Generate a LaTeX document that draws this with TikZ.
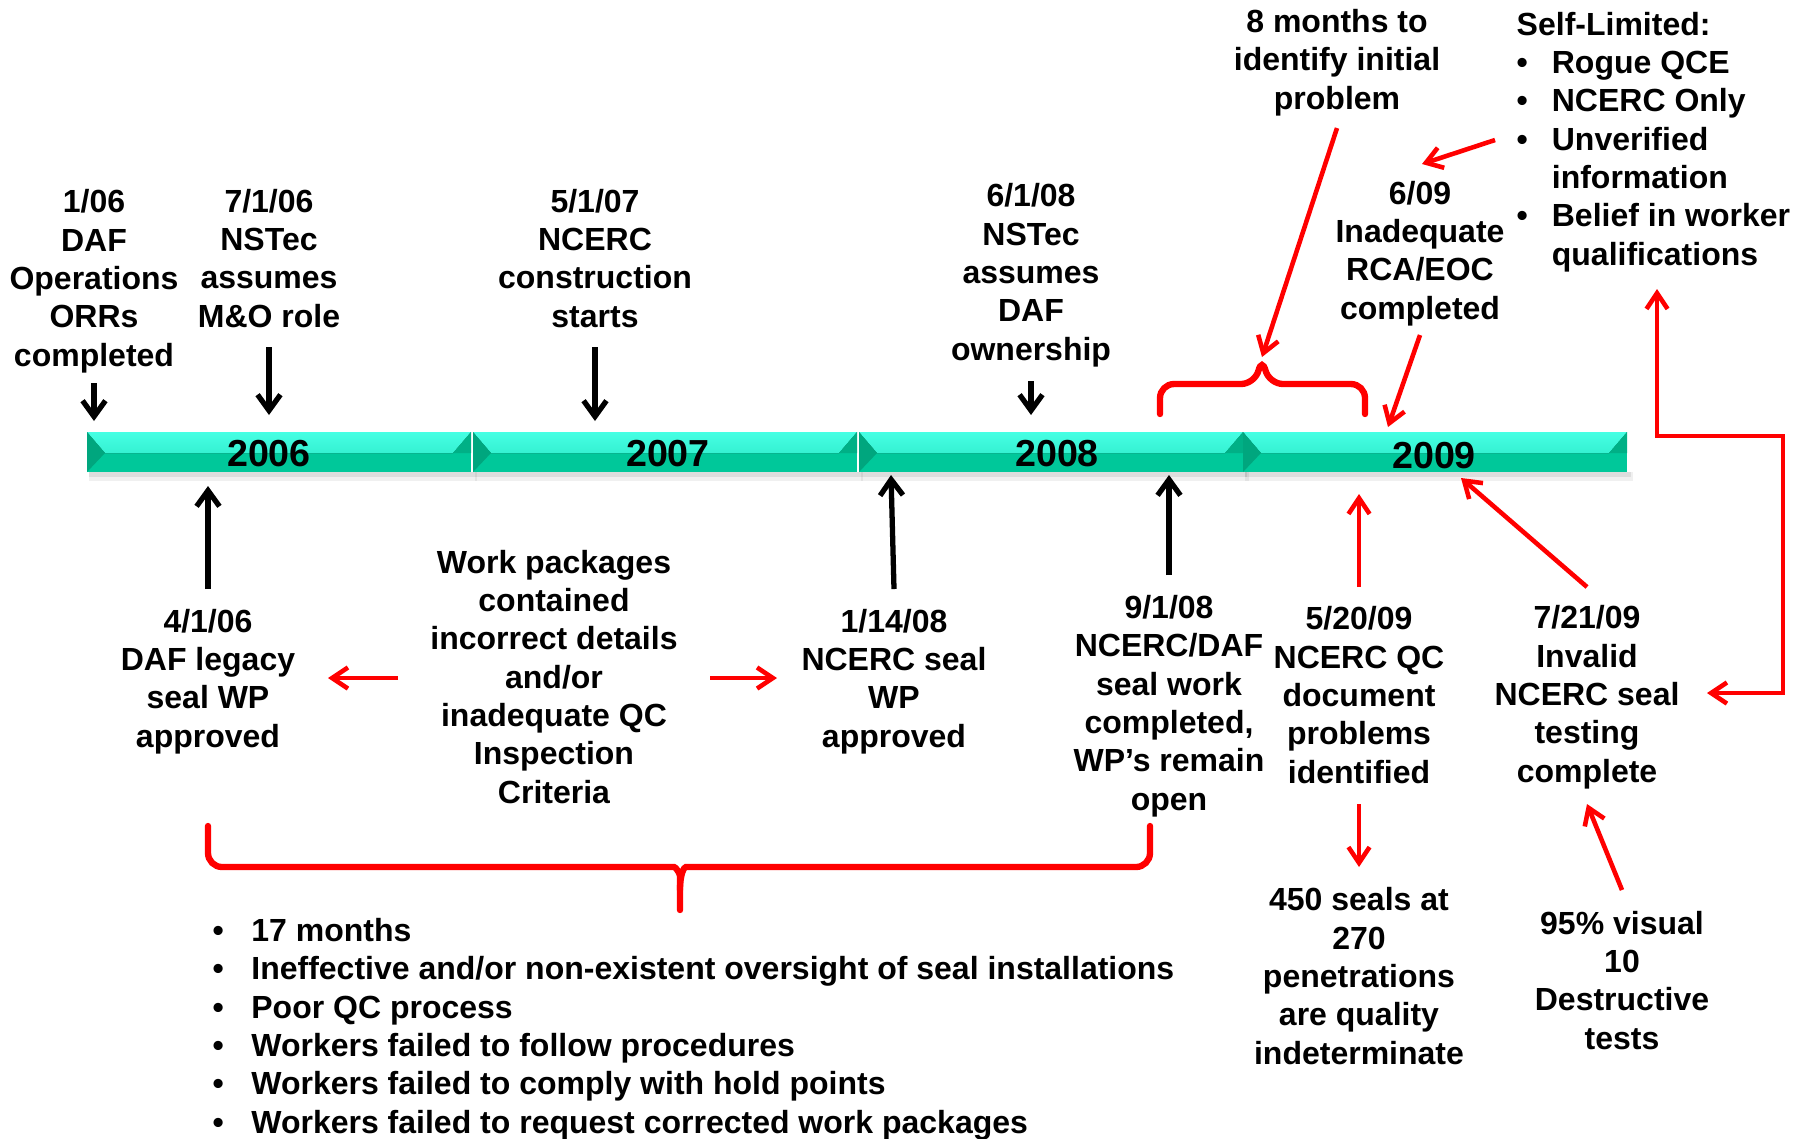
\documentclass[tikz,border=0pt]{standalone}
\usepackage{fontspec}
\setmainfont{Liberation Sans}
\usetikzlibrary{arrows.meta}
\definecolor{barhi}{RGB}{70,255,228}
\definecolor{barlo}{RGB}{0,200,154}
\definecolor{bardk}{RGB}{0,166,126}
\definecolor{alarm}{RGB}{255,0,0}
\newcommand{\lblfont}{\fontsize{9.1}{10.9}\selectfont\bfseries}
\newcommand{\bul}{\makebox[10pt][l]{\textbullet}}

\begin{document}
\begin{tikzpicture}[x=0.01cm,y=-0.01cm,
  lbl/.style={align=center,font=\lblfont,inner sep=0pt,anchor=base,yshift=-0.6pt},
  yr/.style={font=\fontsize{10.7}{13}\selectfont\bfseries,inner sep=0pt,anchor=base},
  blkarr/.style={draw=black,line width=1.5pt,-{Straight Barb[length=4.5pt,width=6.5pt]}},
  redarr/.style={draw=alarm,line width=1.3pt,-{Straight Barb[length=4.5pt,width=6pt]}},
  brace/.style={draw=alarm,line width=1.8pt,rounded corners=4pt,line cap=round}]

\useasboundingbox (0,0) rectangle (1794,1138);

% timeline bar
\foreach \x in {87,473,859,1243}{
  \fill[black,opacity=0.06] (\x+2,472) rectangle (\x+390,481);
  \fill[black,opacity=0.08] (\x+2,472) rectangle (\x+388,477);
  \fill[barlo] (\x,432) rectangle (\x+384,472);
  \fill[top color=barhi,bottom color=barhi!75!barlo] (\x,432) -- (\x+384,432) -- (\x+366,453) -- (\x+18,453) -- cycle;
  \fill[bardk] (\x,432) -- (\x+18,453) -- (\x,472) -- cycle;
  \fill[bardk!70!barlo] (\x+384,432) -- (\x+366,453) -- (\x+384,453) -- cycle;
}
\node[yr] (y2006) at (269,466) {2006};
\node[yr] (y2007) at (668,466) {2007};
\node[yr] (y2008) at (1057,466) {2008};
\node[yr] (y2009) at (1434,468) {2009};

% events above the bar (anchored at the last line)
\node[lbl] (orr) at (94,364) {1/06\\DAF\\Operations\\ORRs\\completed};
\node[lbl] (mando) at (269,325) {7/1/06\\NSTec\\assumes\\M\&O role};
\node[lbl] (build) at (595,325) {5/1/07\\NCERC\\construction\\starts};
\node[lbl] (owner) at (1031,358) {6/1/08\\NSTec\\assumes\\DAF\\ownership};
\node[lbl] (eight) at (1337,107) {8 months to\\identify initial\\problem};
\node[lbl] (rca) at (1420,317) {6/09\\Inadequate\\RCA/EOC\\completed};
\node[font=\lblfont,inner sep=0pt,anchor=base west,align=left,yshift=-0.6pt] (selflim) at (1516,263)
  {Self-Limited:\\\bul Rogue QCE\\\bul NCERC Only\\\bul Unverified\\\hspace*{10pt}information\\\bul Belief in worker\\\hspace*{10pt}qualifications};

% events below the bar
\node[lbl] (legacy) at (208,745) {4/1/06\\DAF legacy\\seal WP\\approved};
\node[lbl] (wpkg) at (554,801) {Work packages\\contained\\incorrect details\\and/or\\inadequate QC\\Inspection\\Criteria};
\node[lbl] (sealwp) at (894,745) {1/14/08\\NCERC seal\\WP\\approved};
\node[lbl] (done) at (1169,808) {9/1/08\\NCERC/DAF\\seal work\\completed,\\WP's remain\\open};
\node[lbl] (qcdoc) at (1359,781) {5/20/09\\NCERC QC\\document\\problems\\identified};
\node[lbl] (seals) at (1359,1062) {450 seals at\\270\\penetrations\\are quality\\indeterminate};
\node[lbl] (invalid) at (1587,780) {7/21/09\\Invalid\\NCERC seal\\testing\\complete};
\node[lbl] (visual) at (1622,1047) {95\% visual\\10\\Destructive\\tests};
\node[font=\lblfont,inner sep=0pt,anchor=base west,align=left,yshift=-0.6pt] (findings) at (212,1131)
  {\makebox[11pt][l]{\textbullet}17 months\\
   \makebox[11pt][l]{\textbullet}Ineffective and/or non-existent oversight of seal installations\\
   \makebox[11pt][l]{\textbullet}Poor QC process\\
   \makebox[11pt][l]{\textbullet}Workers failed to follow procedures\\
   \makebox[11pt][l]{\textbullet}Workers failed to comply with hold points\\
   \makebox[11pt][l]{\textbullet}Workers failed to request corrected work packages};

% arrow ends
\coordinate (orr-s) at (94,383);    \coordinate (orr-t) at (94,421);
\coordinate (mando-s) at (269,347); \coordinate (mando-t) at (269,415);
\coordinate (build-s) at (595,347); \coordinate (build-t) at (595,421);
\coordinate (owner-s) at (1031,381); \coordinate (owner-t) at (1031,415);
\coordinate (legacy-s) at (208,589); \coordinate (legacy-t) at (208,486);
\coordinate (sealwp-s) at (894,589); \coordinate (sealwp-t) at (891,475);
\coordinate (done-s) at (1169,575); \coordinate (done-t) at (1169,475);
\coordinate (eight-s) at (1337,128); \coordinate (peak) at (1262,357);
\coordinate (selflim-s) at (1495,140); \coordinate (rca-t) at (1422,164);
\coordinate (rca-s) at (1420,335); \coordinate (rca-e) at (1388,427);
\coordinate (wpkg-l) at (398,678); \coordinate (legacy-e) at (328,678);
\coordinate (wpkg-r) at (710,678); \coordinate (sealwp-e) at (777,678);
\coordinate (qcdoc-n) at (1359,587); \coordinate (qcdoc-t) at (1359,494);
\coordinate (qcdoc-s) at (1359,804); \coordinate (seals-t) at (1359,867);
\coordinate (invalid-s) at (1587,587); \coordinate (invalid-t) at (1461,478);
\coordinate (visual-s) at (1622,890); \coordinate (invalid-b) at (1587,804);
\coordinate (invalid-e) at (1707,693); \coordinate (loop) at (1783,436);
\coordinate (selflim-b) at (1657,289);

% black arrows
\draw[blkarr] (orr-s) -- (orr-t);
\draw[blkarr] (mando-s) -- (mando-t);
\draw[blkarr] (build-s) -- (build-t);
\draw[blkarr] (owner-s) -- (owner-t);
\draw[blkarr] (legacy-s) -- (legacy-t);
\draw[blkarr] (sealwp-s) -- (sealwp-t);
\draw[blkarr] (done-s) -- (done-t);

% red arrows
\draw[redarr] (eight-s) -- (peak);
\draw[redarr] (selflim-s) -- (rca-t);
\draw[redarr] (rca-s) -- (rca-e);
\draw[redarr] (wpkg-l) -- (legacy-e);
\draw[redarr] (wpkg-r) -- (sealwp-e);
\draw[redarr] (qcdoc-n) -- (qcdoc-t);
\draw[redarr] (qcdoc-s) -- (seals-t);
\draw[redarr] (invalid-s) -- (invalid-t);
\draw[redarr] (visual-s) -- (invalid-b);
\draw[redarr,{Straight Barb[length=4.5pt,width=6pt]}-{Straight Barb[length=4.5pt,width=6pt]}]
  (invalid-e) -| (loop) -| (selflim-b);

% braces
\draw[brace] (1160,414) -- (1160,384) -- (1255,384) -- (peak) -- (1269,384) -- (1365,384) -- (1365,414);
\draw[brace] (208,826) -- (208,867) -- (660,867) .. controls (676,867) and (680,874) .. (680,890) -- (680,910);
\draw[brace] (1150,826) -- (1150,867) -- (700,867) .. controls (684,867) and (680,874) .. (680,890);
\end{tikzpicture}
\end{document}
